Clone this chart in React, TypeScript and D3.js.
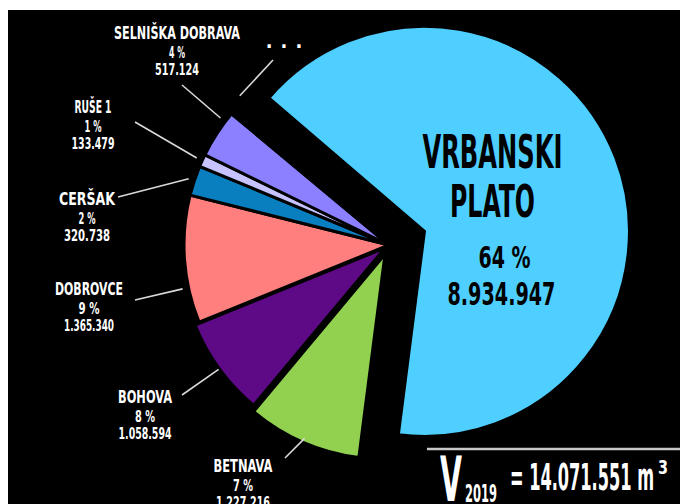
import React from "react";
import * as d3 from "d3";

// ---- data ----
const categories = ["VRBANSKI PLATO", "BETNAVA", "BOHOVA", "DOBROVCE", "CERŠAK", "RUŠE 1", "SELNIŠKA DOBRAVA", "..."];
const volumes = [8934947, 1227216, 1058594, 1365340, 320738, 133479, 517124, 30000];
const percentLabels = ["64 %", "7 %", "8 %", "9 %", "2 %", "1 %", "4 %", ""];
const volumeLabels = ["8.934.947", "1.227.216", "1.058.594", "1.365.340", "320.738", "133.479", "517.124", ""];
const totalLabel = "14.071.551";
const yearLabel = "2019";

// ---- style ----
const colors = ["#4FCFFF", "#92D050", "#5E0A86", "#FF7F7F", "#0A7FC0", "#C7C3FF", "#8B80FF", "#202064"];
const explode = [38, 10, 5, 0, 0, 0, 0, 0];
const FONT = "'Liberation Sans Narrow', 'DejaVu Sans Condensed', 'Roboto Condensed', 'Liberation Sans', sans-serif";

// outer label layout (name centre x, name baseline y, widths, leader end, leader angle override)
const labelLayout: Record<string, any> = {
  "BETNAVA": { x: 243, y: 472, w: [59, 20, 54], lx: 285, ly: 458 },
  "BOHOVA": { x: 145, y: 403, w: [54, 20, 53], lx: 182, ly: 395 },
  "DOBROVCE": { x: 89, y: 295, w: [68, 21, 50], lx: 135, ly: 300, a: 258 },
  "CERŠAK": { x: 87, y: 205, w: [56, 17, 46], lx: 118, ly: 197 },
  "RUŠE 1": { x: 93, y: 113, w: [37, 17, 43], lx: 135, ly: 122 },
  "SELNIŠKA DOBRAVA": { x: 177, y: 39, w: [126, 16, 44], lx: 182, ly: 85, a: 307 },
  "...": { x: 288, y: 48, w: [32, 0, 0], lx: 273, ly: 60, a: 315 },
};

export default function App() {
  const W = 680, H = 504;
  const cx = 389, cy = 245, R = 205;
  const start = (-49.4 * Math.PI) / 180;
  const pie = d3.pie<number>().sort(null).value((d) => d).startAngle(start).endAngle(start + 2 * Math.PI);
  const arcs = pie(volumes);
  const arcGen = d3.arc<d3.PieArcDatum<number>>().innerRadius(0).outerRadius(R);

  const offs = arcs.map((a, i) => {
    const m = (a.startAngle + a.endAngle) / 2;
    return [Math.sin(m) * explode[i], -Math.cos(m) * explode[i]];
  });

  const bx = cx + offs[0][0];

  return (
    <svg width={W} height={H} style={{ position: "absolute", left: 0, top: 0 }} fontFamily={FONT}>
      <rect x={0} y={0} width={W} height={H} fill="#fff" />
      <rect x={8} y={10} width={W - 8} height={H - 10} fill="#000" />
      {arcs.map((a, i) => (
        <path
          key={categories[i]}
          d={arcGen(a) || ""}
          transform={`translate(${cx + offs[i][0]},${cy + offs[i][1]})`}
          fill={colors[i]}
          stroke="#000"
          strokeWidth={3}
          strokeLinejoin="miter"
        />
      ))}
      {/* leader lines + outer labels */}
      {arcs.map((a, i) => {
        if (i === 0) return null;
        const L = labelLayout[categories[i]];
        const ang = L.a !== undefined ? (L.a * Math.PI) / 180 : (a.startAngle + a.endAngle) / 2;
        const rr = R + 6;
        const x1 = cx + Math.sin(ang) * rr, y1 = cy - Math.cos(ang) * rr;
        return (
          <g key={"lab" + i}>
            <line x1={x1} y1={y1} x2={L.lx} y2={L.ly} stroke="#d9d9d9" strokeWidth={1.6} />
            {categories[i] === "..." ? (
              <text x={L.x} y={L.y} fill="#fff" fontSize={20} fontWeight="bold" textAnchor="middle" letterSpacing={8}>
                ...
              </text>
            ) : (
              <>
                <text x={L.x} y={L.y} fill="#fff" fontSize={18} fontWeight="bold" textAnchor="middle"
                  textLength={L.w[0]} lengthAdjust="spacingAndGlyphs">{categories[i]}</text>
                <text x={L.x} y={L.y + 19} fill="#fff" fontSize={16} fontWeight="bold" textAnchor="middle"
                  textLength={L.w[1]} lengthAdjust="spacingAndGlyphs">{percentLabels[i]}</text>
                <text x={L.x} y={L.y + 36} fill="#fff" fontSize={16} fontWeight="bold" textAnchor="middle"
                  textLength={L.w[2]} lengthAdjust="spacingAndGlyphs">{volumeLabels[i]}</text>
              </>
            )}
          </g>
        );
      })}
      {/* big slice labels */}
      <g fill="#000" fontWeight="bold" textAnchor="middle">
        <text x={bx + 68} y={168} fontSize={46} textLength={140} lengthAdjust="spacingAndGlyphs">VRBANSKI</text>
        <text x={bx + 68} y={217} fontSize={45} textLength={85} lengthAdjust="spacingAndGlyphs">PLATO</text>
        <text x={bx + 80} y={268} fontSize={31} textLength={52} lengthAdjust="spacingAndGlyphs">{percentLabels[0]}</text>
        <text x={bx + 77} y={305} fontSize={32} textLength={108} lengthAdjust="spacingAndGlyphs">{volumeLabels[0]}</text>
      </g>
      {/* total */}
      <line x1={427} y1={449} x2={W} y2={449} stroke="#c8c8c8" strokeWidth={2.5} />
      <g fill="#fff" fontWeight="bold">
        <text x={440} y={501} fontSize={63} textLength={22} lengthAdjust="spacingAndGlyphs">V</text>
        <text x={465} y={502} fontSize={24} textLength={32} lengthAdjust="spacingAndGlyphs">{yearLabel}</text>
        <text x={510} y={490} fontSize={38} textLength={144} lengthAdjust="spacingAndGlyphs">{`= ${totalLabel} m`}</text>
        <text x={658} y={474} fontSize={19} textLength={10} lengthAdjust="spacingAndGlyphs">3</text>
      </g>
    </svg>
  );
}
